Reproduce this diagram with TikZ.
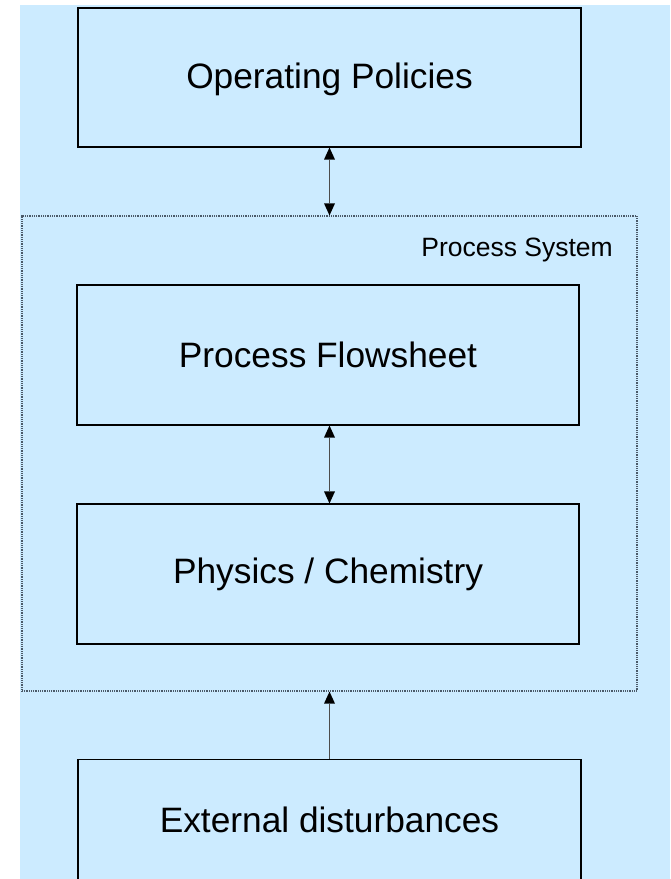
\documentclass[tikz,border=0pt]{standalone}
\usepackage{fontspec}
\setmainfont{Liberation Sans}
\usetikzlibrary{arrows.meta}
\definecolor{panel}{RGB}{204,235,255}
\definecolor{framegray}{RGB}{75,90,105}
\tikzset{
  box/.style={draw=black, line width=1.1pt, fill=panel, inner sep=0pt},
  biglabel/.style={font=\fontsize{35.3}{40}\selectfont, inner sep=0pt},
  smalllabel/.style={font=\fontsize{26.5}{30}\selectfont, inner sep=0pt},
  sysframe/.style={draw=framegray, line width=1.2pt, dash pattern=on 1pt off 0.8pt, inner sep=0pt},
  tip/.tip={Triangle[width=11pt,length=12pt,fill=black,line width=0pt]},
  link/.style={draw=black!70, line width=1.1pt, -tip},
  link2/.style={draw=black!70, line width=1.1pt, tip-tip}
}
\begin{document}
\begin{tikzpicture}[x=1pt, y=-1pt]
  % page area and blue panel
  \clip (0,0) rectangle (671,879);
  \fill[white] (0,0) rectangle (671,879);
  \fill[panel] (20,5) rectangle (670,879);

  % outer process system frame
  \node[sysframe, minimum width=615pt, minimum height=475pt] (sys) at (329.5,453.5) {};
  \node[smalllabel, anchor=east] (syslbl) at (613,250) {Process System};

  % boxes
  \node[box, minimum width=503pt, minimum height=139pt] (op) at (329.5,77.5) {};
  \node[biglabel] (oplbl) at (329.5,79) {Operating Policies};

  \node[box, minimum width=502pt, minimum height=140pt] (flow) at (328,355) {};
  \node[biglabel] (flowlbl) at (flow.center) {Process Flowsheet};

  \node[box, minimum width=502pt, minimum height=140pt] (phys) at (328,574) {};
  \node[biglabel] (physlbl) at (phys.center) {Physics / Chemistry};

  \node[box, minimum width=503pt, minimum height=200pt, anchor=north] (ext) at (329.5,759) {};
  \node[biglabel] (extlbl) at (329.5,820) {External disturbances};

  % connectors
  \draw[link2] (op.south -| sys.north) -- (sys.north);
  \draw[link2] (flow.south -| sys.north) -- (phys.north -| sys.north);
  \draw[link] (ext.north -| sys.south) -- (sys.south);
\end{tikzpicture}
\end{document}
